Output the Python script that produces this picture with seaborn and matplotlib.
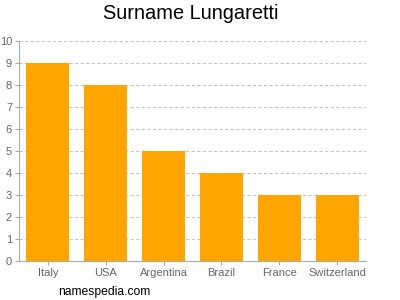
import matplotlib
matplotlib.use("Agg")
import matplotlib.pyplot as plt
import seaborn as sns
import pandas as pd

countries = ["Italy", "USA", "Argentina", "Brazil", "France", "Switzerland"]
counts = [9, 8, 5, 4, 3, 3]
title = "Surname Lungaretti"

sns.set_style("white")
plt.rcParams['font.family'] = ['Liberation Sans', 'DejaVu Sans']

df = pd.DataFrame({"country": countries, "count": counts})
fig = plt.figure(figsize=(4, 3), dpi=100)
ax = fig.add_axes([0.0475, 0.13, 0.8675, 0.7333])
sns.barplot(data=df, x="country", y="count", color="#FFA500", saturation=1,
            width=0.745, ax=ax, zorder=3, linewidth=0, edgecolor="none")
ax.set_ylim(0, 10)
ax.set_yticks(range(0, 11))
ax.set_xlim(-0.5, len(countries) - 0.5)
ax.yaxis.grid(True, linestyle=(0, (3, 2)), color="#c4c4c4", linewidth=0.8, zorder=0)
ax.xaxis.grid(False)
ax.set_axisbelow(True)
for s in ["top", "right"]:
    ax.spines[s].set_visible(False)
for s in ["left", "bottom"]:
    ax.spines[s].set_color("#aaaaaa")
    ax.spines[s].set_linewidth(0.8)
ax.tick_params(axis="both", labelsize=8, labelcolor="#666666", color="#aaaaaa",
               length=3, width=0.8, pad=2, left=True, bottom=True)
ax.set_xlabel("")
ax.set_ylabel("")
fig.text(0.477, 0.955, title, ha="center", va="center", fontsize=14.4, color="black")
fig.text(0.145, 0.027, "namespedia.com", ha="left", va="center", fontsize=8.7, color="black")
fig.savefig("out.png", dpi=100)
